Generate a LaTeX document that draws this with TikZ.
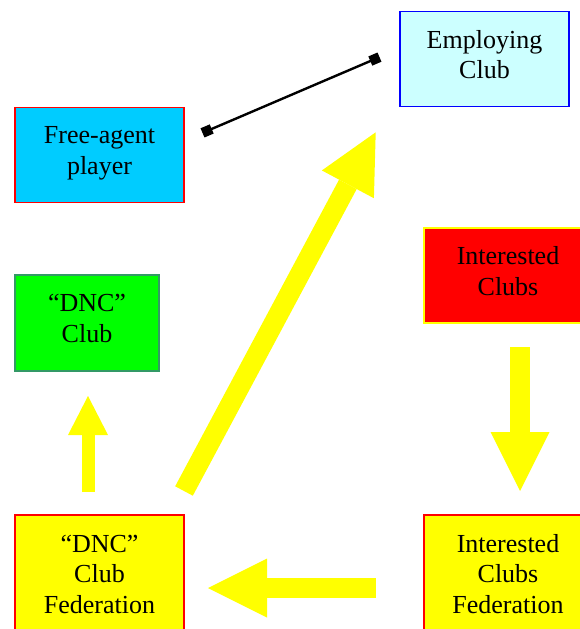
\documentclass[tikz,border=0pt]{standalone}
\usepackage{fontspec}
\setmainfont{Liberation Serif}
\usetikzlibrary{arrows.meta}
\definecolor{paleCyan}{HTML}{CCFFFF}
\definecolor{skyBlue}{HTML}{00CCFF}
\definecolor{brightGreen}{HTML}{00FF00}
\definecolor{seaGreen}{HTML}{339966}
\definecolor{pureYellow}{HTML}{FFFF00}
\definecolor{pureRed}{HTML}{FF0000}
\definecolor{pureBlue}{HTML}{0000FF}
\begin{document}
\begin{tikzpicture}
[
    x=1pt, y=-1pt,
    box/.style={draw, line width=1.5pt, align=center, inner sep=0pt, font=\fontsize{26}{30.5}\selectfont},
    twoline/.style={box, execute at end node={\rule[-9pt]{0pt}{0pt}}},
    wide/.style={minimum width=169pt, minimum height=95pt},
    bigarrow/.style={draw=pureYellow, line width=20pt, -{Triangle[length=59pt, width=59pt, line width=0pt]}},
    smallarrow/.style={draw=pureYellow, line width=13pt, -{Triangle[length=39pt, width=40pt, line width=0pt]}},
    link/.style={line width=2.4pt, {Square[length=10pt, width=10pt]}-{Square[length=10pt, width=10pt]}},
]
\useasboundingbox (0,0) rectangle (579,629);
\node [twoline, wide, draw=pureBlue, fill=paleCyan] (employ) at (484.5,59) {Employing\\Club};
\node [twoline, wide, draw=pureRed, fill=skyBlue] (freeagent) at (99.5,155) {Free-agent\\player};
\node [twoline, draw=seaGreen, fill=brightGreen, minimum width=144pt, minimum height=96pt] (dncclub) at (87,323) {``DNC''\\Club};
\node [twoline, wide, draw=pureYellow, fill=pureRed, minimum width=168pt] (interested) at (508,275.5) {Interested\\Clubs};
\node [box, wide, draw=pureRed, fill=pureYellow, minimum height=118pt] (dncfed) at (99.5,574) {``DNC''\\Club\\Federation};
\node [box, wide, draw=pureRed, fill=pureYellow, minimum width=168pt, minimum height=118pt] (intfed) at (508,574) {Interested\\Clubs\\Federation};
\coordinate (fa-end) at (202.5,132.9);
\coordinate (emp-end) at (379.5,57.1);
\coordinate (up-from) at (88,492);
\coordinate (up-to) at (88,396);
\coordinate (diag-from) at (184,491);
\coordinate (diag-to) at (375.7,132.3);
\coordinate (down-from) at (520,347);
\coordinate (down-to) at (520,491);
\coordinate (left-from) at (376,588);
\coordinate (left-to) at (208,588);
\draw [link] (fa-end) -- (emp-end);
\draw [smallarrow] (up-from) -- (up-to);
\draw [bigarrow] (diag-from) -- (diag-to);
\draw [bigarrow] (down-from) -- (down-to);
\draw [bigarrow] (left-from) -- (left-to);
\end{tikzpicture}
\end{document}
